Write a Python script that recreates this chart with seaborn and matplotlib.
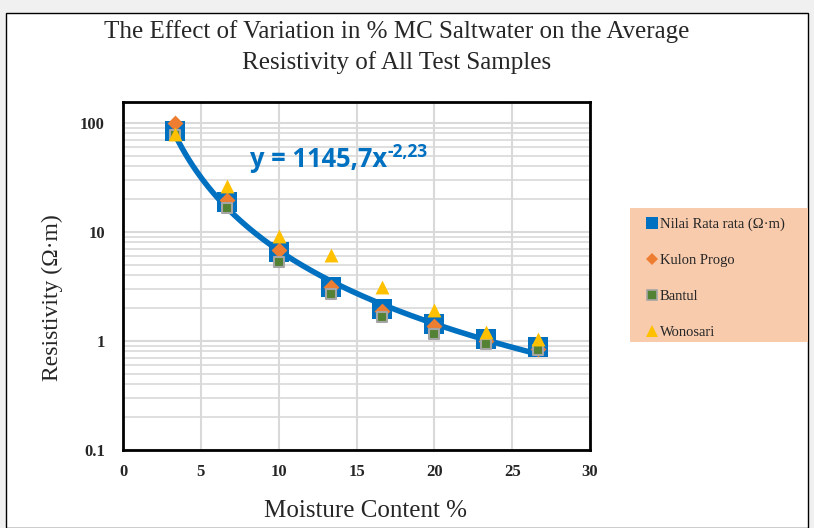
import numpy as np
import pandas as pd
import matplotlib
matplotlib.use("Agg")
import matplotlib.pyplot as plt
import seaborn as sns
from matplotlib.patches import Rectangle
from matplotlib.lines import Line2D

# ---- data ----
moisture = [3.33, 6.67, 10.0, 13.33, 16.67, 20.0, 23.33, 26.67]
avg_res = [84.5, 18.8, 6.56, 3.13, 1.97, 1.43, 1.04, 0.88]
kulon_progo = [100.0, 19.5, 6.8, 3.1, 1.9, 1.37, 1.0, 0.85]
bantul = [76.5, 16.6, 5.33, 2.7, 1.67, 1.16, 0.94, 0.83]
wonosari = [79.0, 26.4, 9.25, 6.07, 3.13, 1.92, 1.22, 1.04]
fit_a = 1145.7
fit_b = -2.23
x_ticks = [0, 5, 10, 15, 20, 25, 30]
y_ticks = [0.1, 1, 10, 100]
y_ticklabels = ["0.1", "1", "10", "100"]
series_names = ["Nilai Rata rata (Ω·m)", "Kulon Progo", "Bantul", "Wonosari"]

sns.set_theme(style="white")
plt.rcParams["font.family"] = ["Liberation Serif", "DejaVu Serif"]

W, H = 814, 528
fig = plt.figure(figsize=(W / 100, H / 100), dpi=100)
fig.patch.set_facecolor("#F0F0F0")
fig.patches.append(Rectangle((6 / W, 0), (808 - 6) / W, (H - 13) / H,
                             transform=fig.transFigure, facecolor="white",
                             edgecolor="black", linewidth=1, zorder=0))

ax = fig.add_axes([123 / W, 1 - 450 / H, (590 - 123) / W, (450 - 102) / H])
ax.set_zorder(2)
ax.set_yscale("log")
ax.set_xlim(0, 30)
ax.set_ylim(0.1, 155)

df = pd.DataFrame({"x": moisture, "avg": avg_res, "kp": kulon_progo,
                   "bt": bantul, "wn": wonosari})

blue = "#0070C0"
sns.scatterplot(data=df, x="x", y="avg", marker="s", s=210, color=blue,
                edgecolor=blue, linewidth=0, ax=ax, zorder=3)

xs = np.linspace(moisture[0], moisture[-1], 200)
trend = pd.DataFrame({"x": xs, "y": fit_a * xs ** fit_b})
sns.lineplot(data=trend, x="x", y="y", color=blue, linewidth=4, ax=ax,
             zorder=4, estimator=None)

sns.scatterplot(data=df, x="x", y="kp", marker="D", s=65, color="#ED7D31",
                edgecolor="#ED7D31", linewidth=0, ax=ax, zorder=5)
sns.scatterplot(data=df, x="x", y="bt", marker="s", s=50, color="#548235",
                edgecolor="#A5A5A5", linewidth=1.5, ax=ax, zorder=6)
sns.scatterplot(data=df, x="x", y="wn", marker="^", s=100, color="#FFC000",
                edgecolor="#FFC000", linewidth=0, ax=ax, zorder=7)

ax.set_xticks(x_ticks)
ax.set_xticklabels([str(t) for t in x_ticks], fontsize=12, fontweight="bold")
ax.set_yticks(y_ticks)
ax.set_yticklabels(y_ticklabels, fontsize=12, fontweight="bold")
ax.yaxis.set_minor_locator(matplotlib.ticker.LogLocator(base=10, subs=np.arange(2, 10)))
ax.yaxis.set_minor_formatter(matplotlib.ticker.NullFormatter())
ax.tick_params(axis="both", which="both", length=0)
ax.tick_params(axis="x", pad=10)
ax.tick_params(axis="y", pad=13)
ax.grid(True, which="major", axis="both", color="#D9D9D9", linewidth=1.5, zorder=0)
ax.grid(True, which="minor", axis="y", color="#D9D9D9", linewidth=1.2, zorder=0)
ax.set_axisbelow(True)
for sp in ax.spines.values():
    sp.set_color("black")
    sp.set_linewidth(2)
ax.set_xlabel("")
ax.set_ylabel("")

eq_x, eq_y = 8.16, 39.5
t = ax.text(eq_x, eq_y, "y = 1145,7x", color=blue, fontsize=18.4,
            fontweight="bold", family=["Open Sans"], va="baseline", ha="left", zorder=8)
ax.annotate("-2,23", xy=(1, eq_y), xycoords=(t, "data"), xytext=(0.5, 7.2),
            textcoords="offset points", color=blue, fontsize=12.5, fontweight="bold",
            family=["Open Sans"], va="baseline", ha="left", zorder=8)

fig.text(397 / W, 1 - 47 / H,
         "The Effect of Variation in % MC Saltwater on the Average\nResistivity of All Test Samples",
         ha="center", va="center", fontsize=18, linespacing=1.4)
fig.text(365 / W, 1 - 511 / H, "Moisture Content %", ha="center", va="center", fontsize=18)
fig.text(52 / W, 1 - 298 / H, "Resistivity (Ω·m)", ha="center", va="center",
         fontsize=17, rotation=90)

# legend box
fig.patches.append(Rectangle((630 / W, 1 - 342 / H), (808 - 630) / W, (342 - 208) / H,
                             transform=fig.transFigure, facecolor="#F8CBAD",
                             edgecolor="none", zorder=1))
handles = [
    Line2D([], [], linestyle="none", marker="s", markersize=8, color=blue, markeredgewidth=0),
    Line2D([], [], linestyle="none", marker="D", markersize=6, color="#ED7D31", markeredgewidth=0),
    Line2D([], [], linestyle="none", marker="s", markersize=7, markerfacecolor="#548235",
           markeredgecolor="#A5A5A5", markeredgewidth=1.2),
    Line2D([], [], linestyle="none", marker="^", markersize=8, color="#FFC000", markeredgewidth=0),
]
leg = fig.legend(handles, series_names, loc="upper left",
                 bbox_to_anchor=(642 / W, 1 - 212 / H), frameon=False,
                 fontsize=10.5, labelspacing=1.55, handlelength=0.6,
                 handletextpad=0.2, borderaxespad=0)
leg.set_zorder(10)

fig.savefig("out.png", dpi=100, facecolor=fig.get_facecolor())
